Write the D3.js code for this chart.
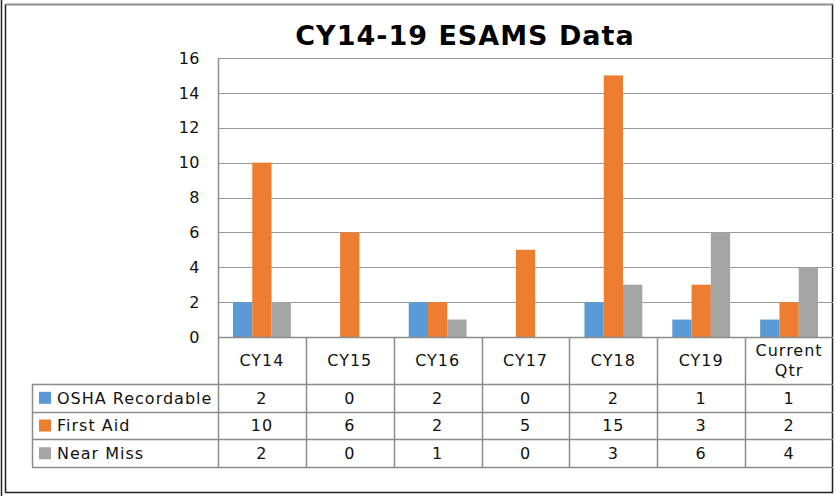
<!DOCTYPE html>
<html>
  <head>
    <meta charset="UTF-8">
    <title>CY14-19 ESAMS Data</title>
    <script src="https://d3js.org/d3.v7.min.js"></script>
    <style>
      body { margin: 0; background: #fff; }
      svg.chart { font-family: "DejaVu Sans", Verdana, sans-serif; }
      .lbl { font-size: 16px; letter-spacing: 1px; fill: #111; }
    </style>
  </head>
  <body>
    <div id="chart"></div>
    <script>
      // Data
      const categories = ["CY14", "CY15", "CY16", "CY17", "CY18", "CY19", "Current Qtr"];
      const seriesNames = ["OSHA Recordable", "First Aid", "Near Miss"];
      const oshaRecordable = [2, 0, 2, 0, 2, 1, 1];
      const firstAid = [10, 6, 2, 5, 15, 3, 2];
      const nearMiss = [2, 0, 1, 0, 3, 6, 4];
      const yTicks = [0, 2, 4, 6, 8, 10, 12, 14, 16];
      const colors = ["#5b9bd5", "#ed7d31", "#a5a5a5"];

      const seriesValues = [oshaRecordable, firstAid, nearMiss];

      const width = 836, height = 496;
      const plotLeft = 218, plotRight = 833, plotTop = 58, plotBottom = 337;
      const headerBottom = 384, rowH = 27.7, legendLeft = 32;

      const svg = d3.select("#chart")
        .append("svg")
        .attr("width", width)
        .attr("height", height)
        .attr("class", "chart");

      // Frame
      svg.append("rect")
        .attr("x", 5.5).attr("y", 4.5)
        .attr("width", 827).attr("height", 488)
        .attr("fill", "none").attr("stroke", "#222").attr("stroke-width", 1.5);
      svg.append("line")
        .attr("x1", 5).attr("x2", 833).attr("y1", 4.5).attr("y2", 4.5)
        .attr("stroke", "#8c8c8c");
      svg.append("line")
        .attr("x1", 1.5).attr("x2", 1.5).attr("y1", 0).attr("y2", 496)
        .attr("stroke", "#222").attr("stroke-width", 1.5);

      // Scales
      const x = d3.scaleBand().domain(categories).range([plotLeft, plotRight]);
      const x1 = d3.scaleBand().domain(seriesNames).range([15, x.bandwidth() - 15]);
      const y = d3.scaleLinear().domain([0, 16]).range([plotBottom, plotTop]);

      // Gridlines
      svg.append("g")
        .selectAll("line")
        .data(yTicks.filter(d => d > 0))
        .join("line")
        .attr("x1", plotLeft).attr("x2", plotRight)
        .attr("y1", d => Math.round(y(d)) + 0.5).attr("y2", d => Math.round(y(d)) + 0.5)
        .attr("stroke", "#9a9a9a");

      // Y axis labels
      const yAxis = d3.axisLeft(y).tickValues(yTicks).tickSize(0).tickPadding(18);
      const gy = svg.append("g")
        .attr("transform", `translate(${plotLeft},0)`)
        .call(yAxis);
      gy.select(".domain").remove();
      gy.selectAll("text")
        .attr("class", "lbl")
        .style("font-family", "DejaVu Sans, sans-serif")
        .style("letter-spacing", "0.5px");

      // Bars
      seriesNames.forEach((s, si) => {
        svg.append("g")
          .selectAll("rect")
          .data(seriesValues[si])
          .join("rect")
          .attr("x", (d, i) => x(categories[i]) + x1(s))
          .attr("width", x1.bandwidth())
          .attr("y", d => y(d))
          .attr("height", d => y(0) - y(d))
          .attr("fill", colors[si]);
      });

      // Table
      const tableBottom = headerBottom + rowH * 3;
      const lineColor = "#8c8c8c";
      const tg = svg.append("g");

      // horizontal lines
      tg.append("line")
        .attr("x1", plotLeft).attr("x2", plotRight)
        .attr("y1", plotBottom + 0.5).attr("y2", plotBottom + 0.5)
        .attr("stroke", lineColor).attr("stroke-width", 1.5);
      [0, 1, 2, 3].forEach(r => {
        const yy = Math.round(headerBottom + r * rowH) + 0.5;
        tg.append("line")
          .attr("x1", legendLeft).attr("x2", plotRight)
          .attr("y1", yy).attr("y2", yy)
          .attr("stroke", lineColor).attr("stroke-width", 1.5);
      });

      // vertical lines
      tg.append("line")
        .attr("x1", plotLeft + 0.5).attr("x2", plotLeft + 0.5)
        .attr("y1", plotTop).attr("y2", tableBottom)
        .attr("stroke", lineColor).attr("stroke-width", 1.5);
      categories.slice(1).forEach(c => {
        const xx = Math.round(x(c)) + 0.5;
        tg.append("line")
          .attr("x1", xx).attr("x2", xx)
          .attr("y1", plotBottom).attr("y2", tableBottom)
          .attr("stroke", lineColor).attr("stroke-width", 1.5);
      });
      tg.append("line")
        .attr("x1", legendLeft + 0.5).attr("x2", legendLeft + 0.5)
        .attr("y1", headerBottom).attr("y2", tableBottom)
        .attr("stroke", lineColor).attr("stroke-width", 1.5);

      // category headers
      categories.forEach(c => {
        const parts = c === "Current Qtr" ? ["Current", "Qtr"] : [c];
        const cx = x(c) + x.bandwidth() / 2;
        const cy = (plotBottom + headerBottom) / 2;
        parts.forEach((p, pi) => {
          tg.append("text")
            .attr("class", "lbl")
            .attr("x", cx)
            .attr("y", cy + (pi - (parts.length - 1) / 2) * 20)
            .attr("dy", "0.36em")
            .attr("text-anchor", "middle")
            .text(p);
        });
      });

      // rows
      seriesNames.forEach((s, si) => {
        const cy = headerBottom + rowH * si + rowH / 2;
        tg.append("rect")
          .attr("x", 39).attr("y", cy - 6)
          .attr("width", 12).attr("height", 12)
          .attr("fill", colors[si]);
        tg.append("text")
          .attr("class", "lbl")
          .attr("x", 57).attr("y", cy)
          .attr("dy", "0.36em")
          .text(s);
        seriesValues[si].forEach((v, i) => {
          tg.append("text")
            .attr("class", "lbl")
            .attr("x", x(categories[i]) + x.bandwidth() / 2)
            .attr("y", cy)
            .attr("dy", "0.36em")
            .attr("text-anchor", "middle")
            .text(v);
        });
      });

      // Title
      svg.append("text")
        .attr("x", 465).attr("y", 45)
        .attr("text-anchor", "middle")
        .style("font-size", "27px")
        .style("font-weight", "bold")
        .style("letter-spacing", "1px")
        .attr("fill", "#000")
        .text("CY14-19 ESAMS Data");
    </script>
  </body>
</html>
